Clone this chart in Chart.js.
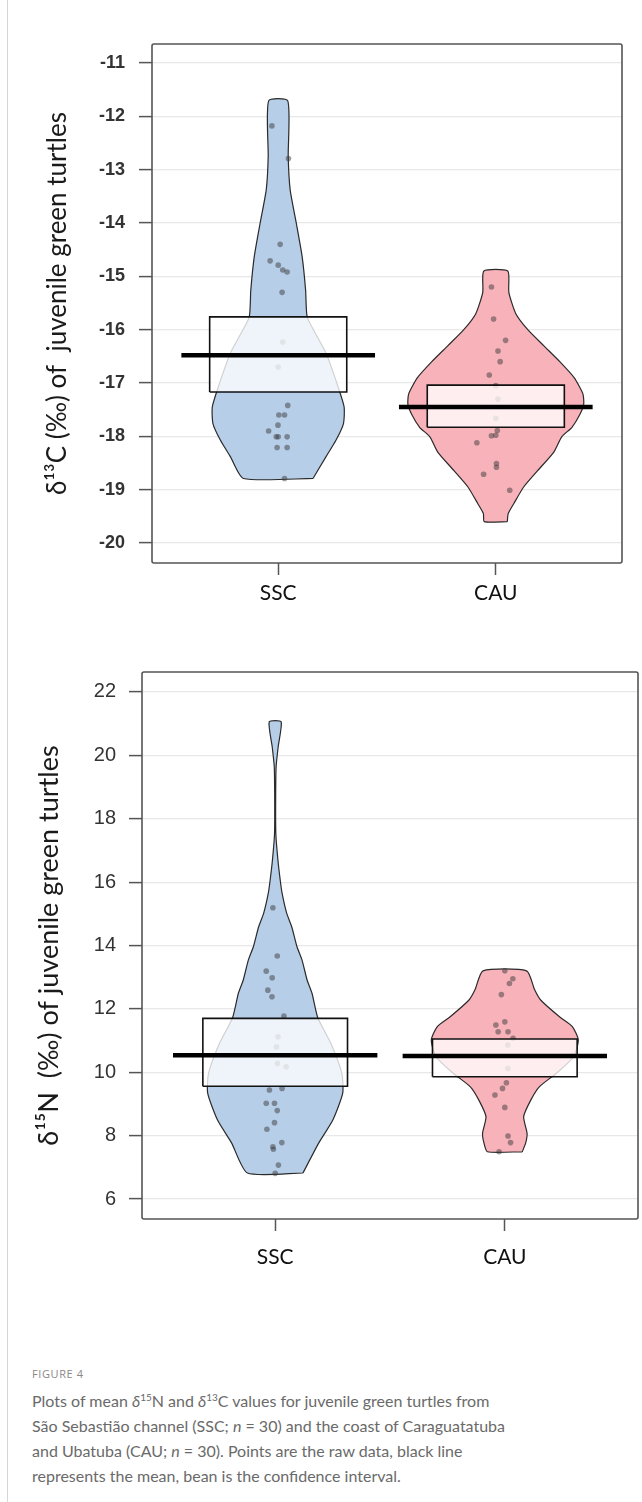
<!DOCTYPE html>
<html>
<head>
<meta charset="utf-8">
<script src="https://cdn.jsdelivr.net/npm/chart.js@4.4.1/dist/chart.umd.min.js"></script>
<style>
  body { margin: 0; background: #fff; width: 642px; height: 1502px; position: relative; overflow: hidden; }
  .edge { position: absolute; left: 7px; top: 0; width: 1px; height: 1502px; background: #d6d6d6; }
  #c13 { position: absolute; left: 0; top: 0; }
  #n15 { position: absolute; left: 0; top: 630px; }
  .fig { position: absolute; left: 32px; top: 1366px; font: 11px "Open Sans"; letter-spacing: 0.6px; color: #888; }
  .cap { position: absolute; left: 32px; top: 1388px; font: 16px Lato; line-height: 25px; color: #6a6a6a; white-space: nowrap; }
  .cap sup { font-size: 10px; line-height: 0; }
</style>
</head>
<body>
<div class="edge"></div>
<canvas id="c13" width="642" height="620"></canvas>
<canvas id="n15" width="642" height="670"></canvas>
<div class="fig">FIGURE 4</div>
<div class="cap">
Plots of mean <i>δ</i><sup>15</sup>N and <i>δ</i><sup>13</sup>C values for juvenile green turtles from<br>
São Sebastião channel (SSC; <i>n</i> = 30) and the coast of Caraguatatuba<br>
and Ubatuba (CAU; <i>n</i> = 30). Points are the raw data, black line<br>
represents the mean, bean is the confidence interval.
</div>

<script>
const groups = ["SSC", "CAU"];

// ---- d13C panel ----
const c13Ticks = [-11, -12, -13, -14, -15, -16, -17, -18, -19, -20];
const c13Mean = [-16.48, -17.45];
const c13CiLow = [-17.17, -17.83];
const c13CiHigh = [-15.76, -17.04];

// bean outline: levels (bottom to top) and half widths
const sscC13BeanY = [-18.79, -18.38, -18.07, -17.76, -17.45, -17.07, -16.44, -16.1, -15.76, -15.26, -14.63, -14.0, -13.38, -12.76, -11.71];
const sscC13BeanW = [0.16, 0.22, 0.266, 0.30, 0.303, 0.275, 0.22, 0.175, 0.133, 0.126, 0.11, 0.083, 0.055, 0.046, 0.044];
const cauC13BeanY = [-19.6, -19.45, -19.26, -18.95, -18.64, -18.3, -18.01, -17.83, -17.6, -17.4, -17.2, -16.9, -16.6, -16.3, -16.0, -15.7, -15.3, -14.9];
const cauC13BeanW = [0.053, 0.057, 0.083, 0.128, 0.193, 0.266, 0.303, 0.35, 0.385, 0.404, 0.40, 0.36, 0.294, 0.22, 0.147, 0.092, 0.06, 0.055];

const sscC13Points = [-12.18, -12.79, -14.40, -14.71, -14.79, -14.88, -14.92, -15.30, -16.23, -16.70, -17.42, -17.60, -17.60, -17.79, -17.90, -18.01, -18.01, -18.01, -18.21, -18.21, -18.79];
const sscC13Jitter = [-0.029, 0.047, 0.009, -0.037, 0.0, 0.021, 0.041, 0.018, 0.021, 0.0, 0.044, 0.003, 0.029, -0.001, -0.044, -0.009, 0.0, 0.041, -0.005, 0.041, 0.029];
const cauC13Points = [-15.2, -15.8, -16.2, -16.4, -16.6, -16.85, -17.05, -17.3, -17.66, -17.89, -17.98, -17.99, -18.12, -18.51, -18.58, -18.71, -19.01];
const cauC13Jitter = [-0.02, -0.01, 0.045, 0.01, 0.02, -0.03, 0.0, 0.01, 0.0, 0.007, 0.0, -0.02, -0.087, 0.003, 0.003, -0.056, 0.064];

// ---- d15N panel ----
const n15Ticks = [6, 8, 10, 12, 14, 16, 18, 20, 22];
const n15Mean = [10.54, 10.51];
const n15CiLow = [9.56, 9.86];
const n15CiHigh = [11.70, 11.05];

const sscN15BeanY = [6.82, 7.77, 8.49, 9.34, 9.97, 10.92, 11.71, 12.5, 12.91, 13.54, 13.96, 14.59, 15.02, 15.65, 16.06, 16.69, 17.5, 18.5, 19.64, 20.27, 21.06];
const sscN15BeanW = [0.121, 0.19, 0.251, 0.294, 0.29, 0.242, 0.186, 0.16, 0.139, 0.117, 0.095, 0.072, 0.05, 0.03, 0.022, 0.012, 0.003, 0.002, 0.004, 0.013, 0.026];
const cauN15BeanY = [7.49, 7.77, 8.07, 8.6, 9.12, 9.54, 9.97, 10.49, 11.02, 11.44, 11.75, 12.28, 12.6, 13.2];
const cauN15BeanW = [0.076, 0.091, 0.097, 0.082, 0.113, 0.15, 0.225, 0.30, 0.32, 0.294, 0.238, 0.156, 0.13, 0.095];

const sscN15Points = [15.19, 13.67, 13.19, 12.98, 12.59, 12.38, 11.77, 11.12, 10.80, 10.28, 10.17, 9.49, 9.44, 9.02, 9.02, 8.79, 8.41, 8.20, 7.78, 7.65, 7.57, 7.07, 6.81];
const sscN15Jitter = [-0.01, 0.009, -0.039, -0.013, -0.032, -0.014, 0.038, 0.012, 0.006, 0.01, 0.048, 0.03, -0.025, -0.039, -0.003, 0.009, -0.003, -0.036, 0.029, -0.01, -0.008, 0.014, 0.0];
const cauN15Points = [13.2, 12.95, 12.8, 12.45, 11.59, 11.49, 11.28, 11.28, 11.07, 10.86, 10.12, 9.67, 9.49, 9.28, 8.89, 7.99, 7.78, 7.49];
const cauN15Jitter = [0.0, 0.035, 0.02, -0.015, 0.0, -0.039, -0.029, 0.014, 0.036, 0.013, 0.013, 0.007, -0.01, -0.043, 0.0, 0.014, 0.025, -0.025];

const beanColors = ["rgba(183,206,233,1)", "rgba(248,178,186,1)"];
const BOX_HALF = 0.315;
const MEAN_HALF = 0.445;

// full frame round the plot area
const frame = {
    id: "frame",
    afterDraw(chart) {
        const a = chart.chartArea;
        const ctx = chart.ctx;
        ctx.save();
        ctx.strokeStyle = "#555";
        ctx.lineWidth = 1.6;
        ctx.beginPath();
        ctx.roundRect(a.left, a.top, a.right - a.left, a.bottom - a.top, 2);
        ctx.stroke();
        ctx.restore();
    }
};

function pirate(id, p) {

    const datasets = [];

    groups.forEach((g, i) => {
        const c = i + 1;

        const right = p.beanY[i].map((y, k) => ({ x: c + p.beanW[i][k], y: y }));
        const left = p.beanY[i].map((y, k) => ({ x: c - p.beanW[i][k], y: y })).reverse();
        const bean = right.concat(left);
        bean.push(bean[0]);

        datasets.push({
            data: bean,
            showLine: true,
            fill: "shape",
            backgroundColor: beanColors[i],
            borderColor: "#2a2a2a",
            borderWidth: 1.2,
            pointRadius: 0,
            tension: 0.2,
            order: 4
        });

        datasets.push({
            data: p.points[i].map((v, k) => ({ x: c + p.jitter[i][k], y: v })),
            pointRadius: 2.8,
            pointBackgroundColor: "rgba(60,60,60,0.5)",
            pointBorderWidth: 0,
            order: 3
        });

        datasets.push({
            data: [
                { x: c - BOX_HALF, y: p.low[i] },
                { x: c + BOX_HALF, y: p.low[i] },
                { x: c + BOX_HALF, y: p.high[i] },
                { x: c - BOX_HALF, y: p.high[i] },
                { x: c - BOX_HALF, y: p.low[i] }
            ],
            showLine: true,
            fill: "shape",
            backgroundColor: "rgba(255,255,255,0.78)",
            borderColor: "#111",
            borderWidth: 1.6,
            pointRadius: 0,
            tension: 0,
            order: 2
        });

        datasets.push({
            data: [
                { x: c - MEAN_HALF, y: p.mean[i] },
                { x: c + MEAN_HALF, y: p.mean[i] }
            ],
            showLine: true,
            borderColor: "#000",
            borderWidth: 4.5,
            pointRadius: 0,
            order: 1
        });
    });

    return new Chart(document.getElementById(id), {
        type: "scatter",
        data: { datasets: datasets },
        plugins: [frame],
        options: {
            responsive: false,
            animation: false,
            layout: { padding: p.padding },
            plugins: { legend: { display: false }, tooltip: { enabled: false } },
            scales: {
                x: {
                    type: "linear",
                    min: 0.42,
                    max: 2.58,
                    afterBuildTicks: s => { s.ticks = groups.map((g, i) => ({ value: i + 1 })); },
                    afterFit: s => { s.height = p.xHeight; },
                    ticks: {
                        callback: v => groups[v - 1],
                        font: { family: "Lato", size: p.xFont },
                        color: "#111",
                        padding: p.xPad
                    },
                    grid: { drawOnChartArea: false, tickColor: "#555", tickLength: 12, tickWidth: 1.5 },
                    border: { display: false }
                },
                y: {
                    min: p.min,
                    max: p.max,
                    afterBuildTicks: s => { s.ticks = p.ticks.map(v => ({ value: v })); },
                    afterFit: s => { s.width = p.yWidth; },
                    ticks: {
                        font: { family: "Liberation Sans", size: p.tickFont, weight: p.tickWeight },
                        color: "#333",
                        padding: p.tickPad
                    },
                    grid: { color: "#e8e8e8", lineWidth: 1.2, tickColor: "#555", tickLength: 13, tickWidth: 1.5 },
                    border: { display: false },
                    title: {
                        display: true,
                        text: p.title,
                        font: { family: "Lato", size: p.titleFont },
                        color: "#1a1a1a",
                        padding: 0
                    }
                }
            }
        }
    });
}

pirate("c13", {
    beanY: [sscC13BeanY, cauC13BeanY],
    beanW: [sscC13BeanW, cauC13BeanW],
    points: [sscC13Points, cauC13Points],
    jitter: [sscC13Jitter, cauC13Jitter],
    mean: c13Mean, low: c13CiLow, high: c13CiHigh,
    ticks: c13Ticks, min: -20.375, max: -10.644,
    title: "δ¹³C (‰) of  juvenile green turtles",
    padding: { left: 42, top: 44, right: 20, bottom: 0 },
    yWidth: 110, xHeight: 57,
    xFont: 21, xPad: 6, tickFont: 18, tickWeight: "bold", tickPad: 14, titleFont: 26
});

pirate("n15", {
    beanY: [sscN15BeanY, cauN15BeanY],
    beanW: [sscN15BeanW, cauN15BeanW],
    points: [sscN15Points, cauN15Points],
    jitter: [sscN15Jitter, cauN15Jitter],
    mean: n15Mean, low: n15CiLow, high: n15CiHigh,
    ticks: n15Ticks, min: 5.369, max: 22.63,
    title: "δ¹⁵N  (‰) of juvenile green turtles",
    padding: { left: 33, top: 42, right: 4, bottom: 0 },
    yWidth: 109, xHeight: 81,
    xFont: 21, xPad: 14, tickFont: 20, tickWeight: "normal", tickPad: 13, titleFont: 27
});
</script>
</body>
</html>
